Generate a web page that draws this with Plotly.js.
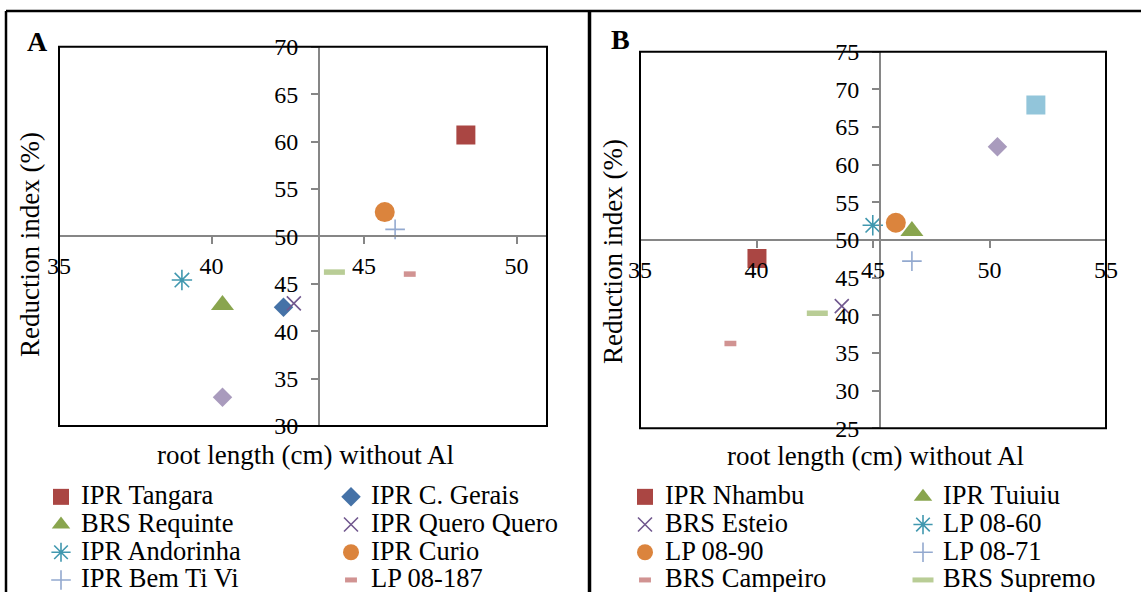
<!DOCTYPE html>
<html><head><meta charset="utf-8">
<script src="https://cdn.plot.ly/plotly-3.0.1.min.js"></script>
<style>html,body{margin:0;padding:0;background:#fff;} #chart{width:1141px;height:592px;}</style>
</head><body><div id="chart"></div>
<script>
// ---------- Panel A data ----------
const namesA = ['IPR Tangara','IPR C. Gerais','BRS Requinte','IPR Quero Quero','IPR Andorinha','IPR Curio','IPR Bem Ti Vi','LP 08-187','Series 9','Series 10'];
const rootA = [48.34, 42.36, 40.36, 42.70, 39.03, 45.68, 46.02, 46.50, 44.03, 40.36];
const reductionA = [60.69, 42.51, 42.75, 42.93, 45.39, 52.56, 50.74, 46.02, 46.23, 33.02];

// ---------- Panel B data ----------
const namesB = ['IPR Nhambu','IPR Tuiuiu','BRS Esteio','LP 08-60','LP 08-90','LP 08-71','BRS Campeiro','BRS Supremo','Series 9','Series 10'];
const rootB = [40.02, 46.67, 43.66, 44.99, 45.98, 46.67, 38.88, 42.61, 50.34, 51.99];
const reductionB = [47.56, 51.19, 41.23, 51.95, 52.29, 47.20, 36.27, 40.26, 62.38, 67.92];

// axis ticks
const tickValsA_x = [35, 40, 45, 50];
const tickValsA_y = [30, 35, 40, 45, 50, 55, 60, 65, 70];
const tickValsB_x = [35, 40, 45, 50, 55];
const tickValsB_y = [25, 30, 35, 40, 45, 50, 55, 60, 65, 70, 75];

// ---------- styles ----------
const symA = ['square','diamond','triangle-up','x-thin-open','asterisk-open','circle','cross-thin-open','line-ew-open','line-ew-open','diamond'];
const colA = ['#AA4643','#4572A7','#89A54E','#71588F','#4198AF','#DB843D','#93A9CF','#D19392','#B9CD96','#A99BBD'];
const sizeA = [19,15,20,14,17,20,14,8.5,15,15];
const symB = ['square','triangle-up','x-thin-open','asterisk-open','circle','cross-thin-open','line-ew-open','line-ew-open','diamond','square'];
const colB = ['#AA4643','#89A54E','#71588F','#4198AF','#DB843D','#93A9CF','#D19392','#B9CD96','#A99BBD','#92C5DA'];
const sizeB = [19,20,14,17,20,14,8.5,15,15,19];
const legA = ['legend','legend2','legend','legend2','legend','legend2','legend','legend2',null,null];
const legB = ['legend3','legend4','legend3','legend4','legend3','legend4','legend3','legend4',null,null];

const W = 1141, H = 592;
const px = v => v / W;
const py = v => 1 - v / H;
const FONT = 'Liberation Serif';
const GREY = '#868686';

function lineWidthFor(sym){
  if (sym.startsWith('line-ew')) return 5.5;
  if (sym.endsWith('-open')) return 1.6;
  return 0;
}

function makeTraces(names, xs, ys, syms, cols, sizes, legs, xa, ya){
  const out = [];
  for (let i = 0; i < names.length; i++){
    const t = {
      type: 'scatter', mode: 'markers',
      x: [xs[i]], y: [ys[i]],
      xaxis: xa, yaxis: ya,
      name: '<span style="font-size:26.5px">' + names[i] + '</span>',
      marker: {
        symbol: syms[i], size: sizes[i], color: cols[i],
        line: {color: cols[i], width: lineWidthFor(syms[i])}
      },
      hoverinfo: 'x+y'
    };
    if (legs[i]) { t.legend = legs[i]; t.showlegend = true; }
    else { t.showlegend = false; }
    out.push(t);
  }
  return out;
}

const data = [].concat(
  makeTraces(namesA, rootA, reductionA, symA, colA, sizeA, legA, 'x', 'y'),
  makeTraces(namesB, rootB, reductionB, symB, colB, sizeB, legB, 'x2', 'y2')
);

// plot boxes (px)
const boxA = {l: 59, r: 547, t: 46.7, b: 426};
const boxB = {l: 640, r: 1106, t: 51.7, b: 428.3};
const rangeA_x = [35, 51], rangeA_y = [30, 70];
const rangeB_x = [35, 55], rangeB_y = [25, 75];
const crossA_x = 43.53, crossA_y = 50;
const crossB_x = 45.30, crossB_y = 50;

function xPosFor(box, range, v){ return px(box.l + (v - range[0]) / (range[1] - range[0]) * (box.r - box.l)); }
function yPosFor(box, range, v){ return py(box.b - (v - range[0]) / (range[1] - range[0]) * (box.b - box.t)); }

function xAxis(box, range, ticks, pos){
  return {
    domain: [px(box.l), px(box.r)], range: range, anchor: 'free', position: pos,
    tickmode: 'array', tickvals: ticks,
    showline: true, linecolor: GREY, linewidth: 2,
    ticks: 'outside', ticklen: 7, tickwidth: 2, tickcolor: GREY,
    showgrid: false, zeroline: false, fixedrange: true,
    ticklabelstandoff: 1,
    tickfont: {family: FONT, size: 24, color: '#000'}
  };
}
function yAxis(box, range, ticks, pos){
  return {
    domain: [py(box.b), py(box.t)], range: range, anchor: 'free', position: pos,
    tickmode: 'array', tickvals: ticks,
    showline: true, linecolor: GREY, linewidth: 2,
    ticks: 'outside', ticklen: 7, tickwidth: 2, tickcolor: GREY,
    showgrid: false, zeroline: false, fixedrange: true,
    ticklabelstandoff: 8,
    tickfont: {family: FONT, size: 24, color: '#000'}
  };
}

const legendBase = {
  orientation: 'v', xanchor: 'left', yanchor: 'top', y: py(478),
  bgcolor: 'rgba(0,0,0,0)', borderwidth: 0, maxheight: 1,
  font: {family: FONT, size: 19, color: '#000'},
  itemclick: false, itemdoubleclick: false, tracegroupgap: 0
};

const layout = {
  width: W, height: H,
  font: {family: FONT, color: '#000'},
  margin: {l: 0, r: 0, t: 0, b: 0, pad: 0, autoexpand: false},
  paper_bgcolor: '#fff', plot_bgcolor: 'rgba(0,0,0,0)',
  showlegend: true,
  xaxis: xAxis(boxA, rangeA_x, tickValsA_x, yPosFor(boxA, rangeA_y, crossA_y)),
  yaxis: yAxis(boxA, rangeA_y, tickValsA_y, xPosFor(boxA, rangeA_x, crossA_x)),
  xaxis2: xAxis(boxB, rangeB_x, tickValsB_x, yPosFor(boxB, rangeB_y, crossB_y)),
  yaxis2: yAxis(boxB, rangeB_y, tickValsB_y, xPosFor(boxB, rangeB_x, crossB_x)),
  legend:  Object.assign({}, legendBase, {x: px(41)}),
  legend2: Object.assign({}, legendBase, {x: px(331)}),
  legend3: Object.assign({}, legendBase, {x: px(625)}),
  legend4: Object.assign({}, legendBase, {x: px(903)}),
  shapes: [
    {type: 'rect', xref: 'x domain', yref: 'y domain', x0: 0, x1: 1, y0: 0, y1: 1, line: {color: '#000', width: 2}},
    {type: 'rect', xref: 'x2 domain', yref: 'y2 domain', x0: 0, x1: 1, y0: 0, y1: 1, line: {color: '#000', width: 2}},
    {type: 'line', xref: 'paper', yref: 'paper', x0: px(6), x1: 1, y0: py(11), y1: py(11), line: {color: '#000', width: 2.5}},
    {type: 'line', xref: 'paper', yref: 'paper', x0: px(6), x1: px(6), y0: 0, y1: py(11), line: {color: '#000', width: 2.5}},
    {type: 'line', xref: 'paper', yref: 'paper', x0: px(589.5), x1: px(589.5), y0: 0, y1: py(11), line: {color: '#000', width: 3.5}}
  ],
  annotations: [
    {text: '<b>A</b>', xref: 'paper', yref: 'paper', x: px(37), y: py(41), showarrow: false, xanchor: 'center', yanchor: 'middle', font: {family: FONT, size: 28, color: '#000'}},
    {text: '<b>B</b>', xref: 'paper', yref: 'paper', x: px(620), y: py(40), showarrow: false, xanchor: 'center', yanchor: 'middle', font: {family: FONT, size: 28, color: '#000'}},
    {text: 'root length (cm) without Al', xref: 'paper', yref: 'paper', x: px(305), y: py(455), showarrow: false, xanchor: 'center', yanchor: 'middle', font: {family: FONT, size: 27, color: '#000'}},
    {text: 'root length (cm) without Al', xref: 'paper', yref: 'paper', x: px(876), y: py(456), showarrow: false, xanchor: 'center', yanchor: 'middle', font: {family: FONT, size: 27, color: '#000'}},
    {text: 'Reduction index (%)', xref: 'paper', yref: 'paper', x: px(30), y: py(245), showarrow: false, textangle: -90, xanchor: 'center', yanchor: 'middle', font: {family: FONT, size: 27, color: '#000'}},
    {text: 'Reduction index (%)', xref: 'paper', yref: 'paper', x: px(613), y: py(252), showarrow: false, textangle: -90, xanchor: 'center', yanchor: 'middle', font: {family: FONT, size: 27, color: '#000'}}
  ]
};

Plotly.newPlot('chart', data, layout, {displayModeBar: false, staticPlot: true});
</script>
</body></html>
